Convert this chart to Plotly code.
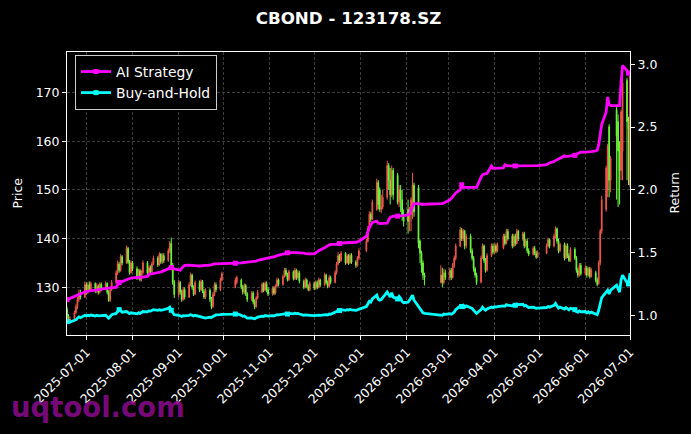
import pandas as pd
import plotly.graph_objects as go

# ---------------- data ----------------
start_date = "2025-06-18"
end_date = "2026-07-01"
holidays = ["2025-10-01", "2025-10-02", "2025-10-03", "2025-10-06", "2025-10-07", "2025-10-08",
            "2026-01-01", "2026-01-02",
            "2026-02-16", "2026-02-17", "2026-02-18", "2026-02-19", "2026-02-20", "2026-02-23",
            "2026-04-06", "2026-05-01", "2026-05-04", "2026-05-05", "2026-06-19"]

opens = [
    125.5,124.0,122.8,123.5,124.8,126.0,127.5,128.8,128.0,  # Jun 25
    130.5,129.0,130.5,129.5,130.8,129.2,130.2,129.0,130.6,129.6,130.8,129.0,127.3,129.5,131.0,133.0,134.8,133.5,136.3,135.0,138.0,135.2,133.0,  # Jul
    135.0,133.8,132.0,133.4,131.6,133.0,135.0,133.0,134.0,133.2,134.8,136.0,134.6,136.8,135.2,136.5,135.5,137.5,139.0,134.5,131.0,  # Aug
    128.5,131.0,129.0,127.5,129.5,128.0,130.5,132.5,130.0,128.6,131.0,129.5,131.2,129.2,128.0,129.4,127.5,126.0,128.5,130.5,129.5,131.5,  # Sep
    130.0,131.0,131.5,130.0,129.0,130.4,128.6,127.5,128.8,127.0,126.0,127.8,129.0,130.6,129.4,130.8,129.5,  # Oct
    128.6,129.8,128.8,130.3,131.5,130.6,132.2,133.5,132.6,131.6,133.2,131.8,133.5,132.0,133.0,131.2,130.0,131.5,130.2,129.5,  # Nov
    130.8,129.8,131.0,130.0,131.5,130.5,132.5,131.0,130.2,132.0,131.0,133.0,134.8,136.5,135.5,137.0,135.0,136.4,135.0,136.6,135.2,134.5,136.0,  # Dec
    137.5,139.5,142.0,145.0,144.0,146.0,151.5,150.0,146.0,146.5,148.5,155.0,152.0,149.0,154.0,153.0,147.5,150.0,148.0,144.5,  # Jan 26
    146.0,143.5,145.0,146.0,151.0,150.5,139.5,137.0,135.0,132.5,131.0,132.5,131.0,133.0,  # Feb
    132.0,133.5,132.0,134.5,136.0,138.5,141.8,140.0,141.5,138.5,140.5,137.5,136.0,133.8,132.5,131.0,136.0,138.5,135.5,133.5,136.5,138.5,  # Mar
    137.2,138.5,137.5,138.0,140.5,139.0,141.5,140.5,138.5,140.5,139.0,141.5,140.0,141.0,138.5,139.5,137.5,136.8,138.0,137.0,136.2,  # Apr
    137.0,138.5,139.8,138.5,140.5,142.0,139.5,137.5,138.8,136.0,138.5,136.5,135.5,137.8,136.0,133.5,132.5,134.5,  # May
    132.8,134.0,132.5,133.8,132.2,133.0,131.5,130.8,135.0,141.5,146.0,150.0,163.0,152.0,166.5,164.0,158.0,154.0,158.0,172.5,164.0,151.0,  # Jun-Jul 1
]
highs = [
    126.0,124.5,124.0,125.2,126.5,128.0,129.5,129.5,131.2,
    131.0,131.0,131.2,131.2,131.0,130.8,130.6,131.0,131.0,131.2,131.0,129.4,130.0,131.5,133.5,135.5,135.2,136.8,136.6,138.6,138.3,135.6,135.5,
    135.4,134.3,133.8,133.8,133.5,135.5,135.4,134.5,134.5,135.3,136.5,136.4,137.2,137.0,137.0,137.0,138.0,139.5,140.2,135.0,131.5,
    131.5,131.3,129.5,130.0,130.0,131.0,133.0,132.8,130.4,131.4,131.4,131.6,131.5,129.6,129.8,129.8,128.0,129.0,131.0,131.0,132.0,133.2,
    132.0,132.4,131.8,130.5,130.8,130.7,129.0,129.2,129.2,127.5,128.2,129.5,131.0,131.0,131.2,131.2,130.0,
    130.2,130.2,130.6,132.0,131.8,132.6,134.0,134.0,133.0,133.6,133.5,134.0,133.8,133.5,133.4,131.6,132.0,131.8,130.6,131.2,
    131.2,131.4,131.4,132.0,131.8,133.0,132.8,131.4,132.5,132.4,133.5,135.2,137.2,136.8,137.4,137.2,136.8,136.8,137.0,137.0,135.6,136.4,138.0,
    140.0,142.6,145.6,145.5,148.0,152.3,152.0,150.5,149.0,150.0,156.0,155.5,154.5,155.0,154.5,153.5,151.0,151.0,150.0,146.0,
    148.0,146.5,148.5,153.5,151.5,151.0,139.8,137.5,135.5,133.0,134.5,134.0,133.8,133.6,
    134.0,134.0,135.0,136.5,139.0,142.4,142.2,142.0,141.8,141.0,141.0,138.0,136.4,134.2,133.0,136.5,139.0,138.8,136.0,137.0,139.0,139.0,
    139.0,139.0,139.2,141.0,141.0,142.0,142.0,141.0,141.0,141.0,142.0,141.8,141.4,141.4,140.0,140.0,138.0,138.4,138.5,137.5,137.6,
    139.0,140.2,140.0,141.0,142.5,142.3,140.0,139.2,139.2,139.0,139.0,137.0,138.2,138.2,136.4,134.0,135.0,135.0,
    134.5,134.4,134.2,134.2,134.0,133.4,132.0,135.5,142.0,148.8,155.0,159.5,163.5,157.0,167.0,165.5,160.0,166.5,174.0,173.0,165.0,174.0,
]
lows = [
    123.5,122.5,122.5,123.2,124.5,125.5,127.0,127.5,127.8,
    128.5,128.6,129.0,129.0,128.8,128.8,128.5,128.7,129.2,129.4,128.5,127.0,127.0,129.2,130.6,132.5,133.0,133.2,134.5,134.8,134.8,132.6,132.8,
    133.3,131.5,131.6,131.2,131.2,132.6,132.5,132.6,132.8,133.0,134.5,134.2,134.4,134.8,134.8,135.0,135.2,137.0,133.5,130.5,127.8,
    128.0,128.5,127.0,127.2,127.5,127.8,130.2,129.5,128.2,128.4,129.0,129.2,128.8,127.6,127.6,127.0,125.5,125.8,128.2,129.0,129.2,131.2,
    129.8,130.6,129.6,128.5,128.6,128.2,127.0,127.2,126.5,125.5,125.8,127.5,128.8,129.0,129.2,129.0,128.2,
    128.3,128.4,128.5,130.0,130.2,130.3,132.0,132.2,131.2,131.3,131.4,131.5,131.5,131.6,130.8,129.6,129.8,129.8,129.2,129.2,
    129.4,129.5,129.6,129.8,130.0,130.2,130.6,129.8,130.0,130.6,130.8,132.6,134.5,135.0,135.2,134.6,134.8,134.6,134.8,134.8,134.0,134.2,135.6,
    137.2,139.2,141.6,143.4,143.8,145.7,146.0,145.5,145.2,146.0,148.0,150.0,147.0,148.5,148.0,147.0,146.5,145.5,143.7,142.5,
    141.0,141.5,141.5,144.0,144.5,138.0,135.0,133.0,131.5,130.4,130.8,130.0,130.6,131.5,
    131.4,131.5,131.8,134.0,135.5,138.2,139.5,139.5,137.8,138.0,137.0,135.5,133.2,132.0,130.5,130.8,135.8,135.0,133.0,133.2,136.2,136.8,
    136.8,137.0,137.2,137.8,138.6,138.8,139.6,138.0,138.2,138.5,138.8,139.5,139.6,138.0,138.2,137.0,136.4,136.5,136.6,135.8,136.0,
    136.8,138.2,138.0,138.2,140.0,139.0,137.0,137.2,135.5,135.8,136.0,135.2,135.2,135.6,133.0,132.0,132.2,132.4,
    132.4,132.0,132.2,131.8,132.0,131.0,130.2,130.5,134.5,141.0,145.5,148.5,148.5,149.5,148.0,146.5,147.0,152.0,152.0,152.0,151.0,150.5,
]
closes = [
    124.0,122.8,123.5,124.8,126.0,127.5,128.8,128.0,130.5,
    129.0,130.5,129.5,130.8,129.2,130.2,129.0,130.6,129.6,130.8,129.0,127.3,129.5,131.0,133.0,134.8,133.5,136.3,135.0,138.0,135.2,133.0,135.0,
    133.8,132.0,133.4,131.6,133.0,135.0,133.0,134.0,133.2,134.8,136.0,134.6,136.8,135.2,136.5,135.5,137.5,139.0,134.5,131.0,128.5,
    131.0,129.0,127.5,129.5,128.0,130.5,132.5,130.0,128.6,131.0,129.5,131.2,129.2,128.0,129.4,127.5,126.0,128.5,130.5,129.5,131.5,132.8,
    131.5,132.0,130.0,129.0,130.4,128.6,127.5,128.8,127.0,126.0,127.8,129.0,130.6,129.4,130.8,129.5,128.6,
    129.8,128.8,130.3,131.5,130.6,132.2,133.5,132.6,131.6,133.2,131.8,133.5,132.0,133.0,131.2,130.0,131.5,130.2,129.5,130.8,
    129.8,131.0,130.0,131.5,130.5,132.5,131.0,130.2,132.0,131.0,133.0,134.8,136.5,135.5,137.0,135.0,136.4,135.0,136.6,135.2,134.5,136.0,137.5,
    139.5,142.0,145.0,144.0,147.5,151.5,147.0,146.0,146.5,148.5,155.0,152.0,149.0,154.0,149.0,147.5,150.0,148.0,144.5,143.5,
    143.5,145.5,148.0,151.0,145.5,139.0,137.0,134.5,132.5,132.0,132.5,131.0,133.0,132.0,
    133.5,132.0,134.5,136.0,138.5,141.8,140.0,141.5,138.5,140.5,137.5,136.0,133.8,132.5,131.0,136.0,138.5,135.5,133.5,136.5,138.5,137.2,
    138.5,137.5,138.8,140.5,139.0,141.5,140.0,138.5,140.5,139.0,141.5,140.0,141.0,138.5,139.5,137.5,136.8,138.0,137.0,136.2,137.2,
    138.5,139.8,138.5,140.5,142.0,139.5,137.5,138.8,136.0,138.5,136.5,135.5,137.8,136.0,133.5,132.5,134.5,132.8,
    134.0,132.5,133.8,132.2,133.5,131.5,130.6,135.0,141.5,148.0,154.5,159.0,152.0,156.5,161.0,158.0,154.0,166.0,172.0,164.0,162.5,173.5,
]
ai_strategy = [
    1.125,1.13,1.135,1.15,1.155,1.165,1.17,1.175,1.185,
    1.19,1.192,1.195,1.197,1.20,1.202,1.205,1.207,1.21,1.213,1.215,1.215,1.218,1.22,1.223,1.24,1.262,1.265,1.27,1.285,1.29,1.295,1.297,
    1.298,1.30,1.30,1.30,1.302,1.305,1.31,1.325,1.328,1.33,1.333,1.34,1.342,1.345,1.35,1.355,1.365,1.372,1.38,1.375,1.37,
    1.362,1.36,1.375,1.39,1.398,1.40,1.40,1.398,1.395,1.395,1.393,1.395,1.395,1.395,1.397,1.40,1.405,1.41,1.41,1.41,1.41,1.41,
    1.415,1.415,1.417,1.418,1.42,1.42,1.422,1.425,1.428,1.43,1.432,1.438,1.445,1.448,1.45,1.452,1.455,
    1.465,1.468,1.47,1.475,1.478,1.485,1.49,1.495,1.498,1.50,1.50,1.50,1.50,1.50,1.50,1.495,1.492,1.49,1.49,1.49,
    1.49,1.495,1.505,1.515,1.52,1.535,1.545,1.555,1.56,1.565,1.565,1.568,1.57,1.572,1.575,1.578,1.58,1.58,1.58,1.58,1.582,1.585,1.59,
    1.63,1.67,1.70,1.72,1.74,1.75,1.735,1.73,1.73,1.73,1.735,1.76,1.78,1.785,1.79,1.79,1.79,1.79,1.79,1.795,
    1.80,1.805,1.84,1.87,1.89,1.89,1.885,1.885,1.885,1.885,1.885,1.89,1.895,1.90,
    1.92,1.93,1.945,1.96,1.975,2.0,2.04,2.02,2.02,2.02,2.02,2.02,2.02,2.02,2.02,2.10,2.12,2.125,2.125,2.13,2.19,2.17,
    2.17,2.17,2.17,2.175,2.20,2.195,2.19,2.19,2.19,2.19,2.19,2.19,2.19,2.188,2.188,2.19,2.19,2.19,2.19,2.19,2.192,
    2.20,2.21,2.215,2.225,2.235,2.24,2.245,2.25,2.27,2.265,2.265,2.27,2.27,2.275,2.285,2.29,2.295,2.30,
    2.30,2.30,2.30,2.302,2.305,2.31,2.315,2.36,2.43,2.52,2.62,2.74,2.68,2.67,2.67,2.67,2.67,2.85,2.99,2.95,2.93,2.94,
]
buy_and_hold = [
    0.950,0.941,0.946,0.956,0.965,0.977,0.987,0.981,1.000,
    0.995,1.0,0.997,1.002,0.995,1.0,0.996,1.0,0.998,1.0,0.99,0.977,0.99,1.005,1.015,1.03,1.045,1.04,1.025,1.03,1.02,1.013,1.02,
    1.018,1.012,1.02,1.015,1.022,1.03,1.028,1.035,1.033,1.04,1.045,1.04,1.045,1.04,1.045,1.045,1.055,1.065,1.04,1.02,1.005,
    1.0,0.995,0.99,0.997,0.995,1.0,1.005,1.0,0.995,1.0,0.99,0.988,0.982,0.976,0.978,0.985,0.983,0.99,1.0,1.003,1.005,1.008,
    1.01,1.012,1.0,0.992,0.995,0.985,0.978,0.98,0.975,0.972,0.978,0.985,0.993,0.99,0.998,0.995,0.993,
    0.998,0.995,1.0,1.005,1.003,1.01,1.015,1.013,1.01,1.015,1.012,1.017,1.013,1.015,1.01,1.0,1.003,1.0,0.998,1.0,
    0.997,1.0,0.998,1.002,1.0,1.008,1.005,1.003,1.01,1.008,1.02,1.03,1.04,1.038,1.045,1.04,1.045,1.042,1.047,1.043,1.04,1.045,1.05,
    1.07,1.09,1.112,1.105,1.13,1.16,1.128,1.12,1.125,1.14,1.185,1.165,1.145,1.18,1.145,1.13,1.15,1.135,1.11,1.10,
    1.105,1.12,1.14,1.16,1.12,1.07,1.055,1.035,1.02,1.015,1.005,1.0,1.01,1.008,
    1.012,1.008,1.015,1.025,1.045,1.075,1.07,1.08,1.065,1.075,1.06,1.055,1.04,1.03,1.015,1.045,1.065,1.05,1.04,1.05,1.065,1.06,
    1.068,1.065,1.07,1.075,1.072,1.085,1.08,1.075,1.085,1.08,1.09,1.085,1.088,1.075,1.08,1.07,1.062,1.065,1.06,1.055,1.058,
    1.062,1.07,1.065,1.08,1.095,1.075,1.058,1.065,1.05,1.062,1.05,1.043,1.055,1.045,1.03,1.025,1.035,1.028,
    1.03,1.02,1.028,1.018,1.025,1.012,1.005,1.04,1.09,1.14,1.185,1.20,1.17,1.20,1.24,1.215,1.185,1.28,1.32,1.26,1.25,1.335,
]

# ---------------- trading calendar ----------------
hol = set(pd.to_datetime(holidays))
dates_all = [d for d in pd.bdate_range(start_date, end_date) if d not in hol]
n = min(len(dates_all), len(opens), len(highs), len(lows), len(closes), len(ai_strategy), len(buy_and_hold))
dates = [d.strftime("%Y-%m-%d") for d in dates_all[:n]]

RED = "#f2584b"
GREEN = "#6ef83e"
MAG = "#ff00ff"
CYA = "#00ffff"
mark_every = 25

def marker_colors(col):
    return [col if i % mark_every == 0 else "rgba(0,0,0,0)" for i in range(n)]

fig = go.Figure()
fig.add_trace(go.Candlestick(
    x=dates, open=opens[:n], high=highs[:n], low=lows[:n], close=closes[:n],
    increasing=dict(line=dict(color=RED, width=1), fillcolor=RED),
    decreasing=dict(line=dict(color=GREEN, width=1), fillcolor=GREEN),
    showlegend=False, hoverinfo="skip", yaxis="y", xaxis="x",
))
fig.add_trace(go.Scatter(
    x=dates, y=ai_strategy[:n], name="AI Strategy", mode="lines+markers",
    line=dict(color=MAG, width=2.8),
    marker=dict(symbol="square", size=5, color=marker_colors(MAG)),
    yaxis="y2",
))
fig.add_trace(go.Scatter(
    x=dates, y=buy_and_hold[:n], name="Buy-and-Hold", mode="lines+markers",
    line=dict(color=CYA, width=2.8),
    marker=dict(symbol="square", size=5, color=marker_colors(CYA)),
    yaxis="y2",
))

W, H = 691, 434
L, R, T, B = 67, 61, 52, 99
pw, ph = W - L - R, H - T - B

def px_x(x):
    return (x - L) / pw

def px_y(y):
    return (H - B - y) / ph

grid = dict(showgrid=True, gridcolor="#3c3c3c", gridwidth=0.8, griddash="3px,2px")

fig.update_layout(
    width=W, height=H,
    margin=dict(l=L, r=R, t=T, b=B),
    paper_bgcolor="black", plot_bgcolor="black",
    font=dict(family="DejaVu Sans", color="white", size=12.5),
    title=dict(text="<b>CBOND - 123178.SZ</b>", x=0.5, xref="paper", xanchor="center",
               y=1 - 18 / H, yref="container", yanchor="middle",
               font=dict(size=16.7, color="white")),
    xaxis=dict(type="date", range=[start_date, end_date],
               tick0="2025-07-01", dtick="M1", tickformat="%Y-%m-%d", tickangle=-45,
               showline=True, linecolor="white", linewidth=1, mirror=True,
               ticks="outside", ticklen=4, tickcolor="white",
               zeroline=False, rangeslider=dict(visible=False), **grid),
    yaxis=dict(range=[120.2, 178.33], tick0=130, dtick=10,
               showline=True, linecolor="white", linewidth=1, mirror=True,
               ticks="outside", ticklen=4, tickcolor="white", zeroline=False, **grid),
    yaxis2=dict(range=[0.843, 3.098], overlaying="y", side="right",
                tickvals=[1.0, 1.5, 2.0, 2.5, 3.0], ticktext=["1.0", "1.5", "2.0", "2.5", "3.0"],
                showline=True, linecolor="white", linewidth=1,
                ticks="outside", ticklen=4, tickcolor="white",
                showgrid=False, zeroline=False),
    legend=dict(x=px_x(75), y=px_y(55), xanchor="left", yanchor="top",
                bgcolor="black", bordercolor="#cccccc", borderwidth=1,
                font=dict(size=13.9, color="white")),
    showlegend=True,
    annotations=[
        dict(text="Price", xref="paper", yref="paper", x=px_x(17), y=0.5, textangle=-90,
             showarrow=False, xanchor="center", yanchor="middle", font=dict(size=12.5, color="white")),
        dict(text="Return", xref="paper", yref="paper", x=px_x(674), y=0.5, textangle=-90,
             showarrow=False, xanchor="center", yanchor="middle", font=dict(size=12.5, color="white")),
        dict(text="<b>uqtool.com</b>", xref="paper", yref="paper", x=px_x(9), y=px_y(407),
             showarrow=False, xanchor="left", yanchor="middle",
             font=dict(size=27.5, color="rgba(136,10,136,0.9)")),
    ],
)

fig.write_html("out.html")
